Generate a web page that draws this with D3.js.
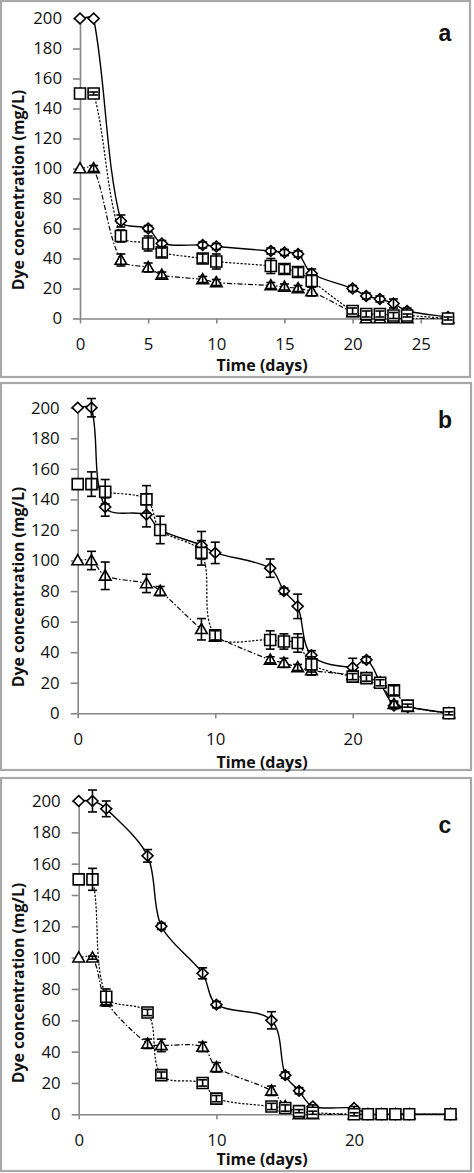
<!DOCTYPE html>
<html><head><meta charset="utf-8">
<script src="https://cdn.jsdelivr.net/npm/d3@7"></script>
<style>
html,body{margin:0;padding:0;background:#fff;}
svg{display:block;}
</style></head>
<body>
<script>
// ---------- DATA ----------
const daysA = [0,1,3,5,6,9,10,14,15,16,17,20,21,22,23,24,27];
const daysBC = [0,1,2,5,6,9,10,14,15,16,17,20,21,22,23,24,27];
const yTickValues = [0,20,40,60,80,100,120,140,160,180,200];
const xTicksA = [0,5,10,15,20,25];
const xTicksBC = [0,10,20];

const aDiamond    = [200,200,65,60,50,49,48,45,44,43,30,20,15,13,10,5,1];
const aDiamondErr = [0,0,4,2,2,2,2,2,2,2,3,2,2,2,3,2,1];
const aSquare     = [150,150,55,50,44,40,38,35,33,31,25,5,3,3,2,2,0];
const aSquareErr  = [0,1,4,5,3,3,5,5,3,3,4,2,2,2,2,1,1];
const aTriangle   = [100,100,39,34,29,26,24,22,21,20,18,4,0,0,0,0,0];
const aTriangleErr= [0,2,4,3,2,2,2,2,2,2,3,1,1,1,1,1,1];

const bDiamond    = [200,200,135,130,120,110,105,95,80,70,38,30,35,20,5,4,0];
const bDiamondErr = [0,6,6,8,3,9,7,6,2,8,3,6,2,1,2,1,1];
const bSquare     = [150,150,145,140,120,105,51,48,47,46,32,24,23,20,15,5,0];
const bSquareErr  = [0,8,8,9,9,8,3,6,5,6,5,2,2,2,3,1,1];
const bTriangle   = [100,100,90,85,80,55,50,35,33,30,28,25,23,20,6,4,0];
const bTriangleErr= [0,6,9,6,3,7,2,2,3,2,3,3,2,1,2,1,1];

const cDiamond    = [200,200,195,165,120,90,70,60,25,15,5,4,0,0,0,0,0];
const cDiamondErr = [0,7,5,4,2,3.5,2,5.5,2,2,1,1,0,0,0,0,0];
const cSquare     = [150,150,75,65,25,20,10,5,4,2,1,0,0,0,0,0,0];
const cSquareErr  = [0,7,5,2,2,2,2,2,2,1,1,1,0,0,0,0,0];
const cTriangle   = [100,100,72,45,44,43,30,15,5,0,0,0,0,0,0,0,0];
const cTriangleErr= [0,1,3,3,4,3,3,3,1,1,1,0,0,0,0,0,0];

const panelLabels = ["a","b","c"];
const xTitle = "Time (days)";
const yTitle = "Dye concentration (mg/L)";

// ---------- LAYOUT ----------
const W = 474, H = 1173;
const panels = [
  {label:panelLabels[0], days:daysA, xticks:xTicksA, d:aDiamond, de:aDiamondErr, s:aSquare, se:aSquareErr, t:aTriangle, te:aTriangleErr,
   box:[1,1,470,377], xr:[80, 80+27.3*13.63], yr:[318.5,18.5], xTitleY:371, yTitleY:190, labelY:41},
  {label:panelLabels[1], days:daysBC, xticks:xTicksBC, d:bDiamond, de:bDiamondErr, s:bSquare, se:bSquareErr, t:bTriangle, te:bTriangleErr,
   box:[1,383,471,770], xr:[77.7, 77.7+27.3*13.75], yr:[713.3,407.7], xTitleY:768, yTitleY:587, labelY:428},
  {label:panelLabels[2], days:daysBC, xticks:xTicksBC, d:cDiamond, de:cDiamondErr, s:cSquare, se:cSquareErr, t:cTriangle, te:cTriangleErr,
   box:[1,778,471,1171], xr:[78.7, 78.7+27.3*13.77], yr:[1114.3,801], xTitleY:1165, yTitleY:983, labelY:833}
];

// Excel-like smoothed curve (tangent from neighbours, control length proportional to segment length)
function ExcelSmooth(context){ this._context = context; }
ExcelSmooth.prototype = {
  areaStart(){ this._line = 0; }, areaEnd(){ this._line = NaN; },
  lineStart(){ this._pts = []; },
  point(x,y){ this._pts.push([+x,+y]); },
  lineEnd(){
    const P = this._pts, n = P.length, c = this._context, k = 0.3;
    if (!n) return;
    c.moveTo(P[0][0],P[0][1]);
    if (n === 1) return;
    const T = P.map((p,i)=>{
      const a = P[Math.max(0,i-1)], b = P[Math.min(n-1,i+1)];
      const dx = b[0]-a[0], dy = b[1]-a[1], L = Math.hypot(dx,dy) || 1;
      return [dx/L, dy/L];
    });
    for (let i=0;i<n-1;i++){
      const p = P[i], q = P[i+1];
      const L = Math.hypot(q[0]-p[0], q[1]-p[1]);
      c.bezierCurveTo(p[0]+T[i][0]*L*k, p[1]+T[i][1]*L*k,
                      q[0]-T[i+1][0]*L*k, q[1]-T[i+1][1]*L*k, q[0], q[1]);
    }
  }
};
const curveExcel = ctx => new ExcelSmooth(ctx);

const svg = d3.select("body").append("svg").attr("width",W).attr("height",H);
svg.append("rect").attr("width",W).attr("height",H).attr("fill","#fff");

const axisColor = "#868686";
const tickFont = "'Open Sans', sans-serif";

const symDiamond = "M0,-5.3L5.5,0L0,5.3L-5.5,0Z";
const symSquare = "M-5.5,-5.5H5.5V5.5H-5.5Z";
const symTriangle = "M0,-5.8L5.8,4.3L-5.8,4.3Z";

panels.forEach(p => {
  const g = svg.append("g");
  g.append("rect").attr("x",p.box[0]).attr("y",p.box[1])
    .attr("width",p.box[2]-p.box[0]).attr("height",p.box[3]-p.box[1])
    .attr("fill","none").attr("stroke","#a8a8a8").attr("stroke-width",2.2);

  const x = d3.scaleLinear().domain([0,27.3]).range(p.xr);
  const y = d3.scaleLinear().domain([0,200]).range(p.yr);

  const ya = g.append("g").attr("transform",`translate(${p.xr[0]},0)`)
    .call(d3.axisLeft(y).tickValues(yTickValues).tickSize(7).tickSizeOuter(0).tickPadding(11));
  const xa = g.append("g").attr("transform",`translate(0,${p.yr[0]})`)
    .call(d3.axisBottom(x).tickValues(p.xticks).tickSize(5).tickSizeOuter(0).tickPadding(15));
  [ya,xa].forEach(a=>{
    a.select(".domain").attr("stroke",axisColor).attr("stroke-width",1.6);
    a.selectAll(".tick line").attr("stroke",axisColor).attr("stroke-width",1.6);
    a.selectAll(".tick text").attr("fill","#111").style("font-family",tickFont).style("font-size","16.8px");
  });

  g.append("text").attr("x",262).attr("y",p.xTitleY).attr("text-anchor","middle")
    .style("font-family",tickFont).style("font-weight","bold").style("font-size","16px").attr("fill","#111").text(xTitle);
  g.append("text").attr("transform",`translate(24,${p.yTitleY}) rotate(-90)`).attr("text-anchor","middle")
    .style("font-family",tickFont).style("font-weight","bold").style("font-size","15.8px").attr("fill","#111").text(yTitle);
  g.append("text").attr("x",445).attr("y",p.labelY).attr("text-anchor","middle")
    .style("font-family","'Liberation Sans', Arial, sans-serif").style("font-weight","bold").style("font-size","23px").attr("fill","#111").text(p.label);

  const series = [
    {v:p.t, e:p.te, sym:symTriangle, dash:"5,2,1.5,2", w:1.2},
    {v:p.s, e:p.se, sym:symSquare, dash:"2.2,1.6", w:1.2},
    {v:p.d, e:p.de, sym:symDiamond, dash:null, w:1.4}
  ];
  const line = d3.line().x(d=>x(d[0])).y(d=>y(d[1])).curve(curveExcel);

  series.forEach(s=>{
    const pts = p.days.map((dd,i)=>[dd,s.v[i]]);
    g.append("path").attr("d",line(pts)).attr("fill","none").attr("stroke","#000")
      .attr("stroke-width",s.w).attr("stroke-dasharray",s.dash);
  });
  [series[2],series[0],series[1]].forEach(s=>{
    const pts = p.days.map((dd,i)=>[dd,s.v[i],s.e[i]]);
    g.append("g").selectAll("path").data(pts).join("path")
      .attr("d",s.sym).attr("transform",d=>`translate(${x(d[0])},${y(d[1])})`)
      .attr("fill","#fff").attr("stroke","#000").attr("stroke-width",1.6);
    const eb = g.append("g").attr("stroke","#000").attr("stroke-width",1.6);
    pts.filter(d=>d[2]>0).forEach(d=>{
      const cx = x(d[0]), y1 = y(d[1]-d[2]), y2 = y(d[1]+d[2]);
      eb.append("line").attr("x1",cx).attr("x2",cx).attr("y1",y1).attr("y2",y2);
      eb.append("line").attr("x1",cx-4.5).attr("x2",cx+4.5).attr("y1",y1).attr("y2",y1);
      eb.append("line").attr("x1",cx-4.5).attr("x2",cx+4.5).attr("y1",y2).attr("y2",y2);
    });
  });
});
</script>
</body></html>
